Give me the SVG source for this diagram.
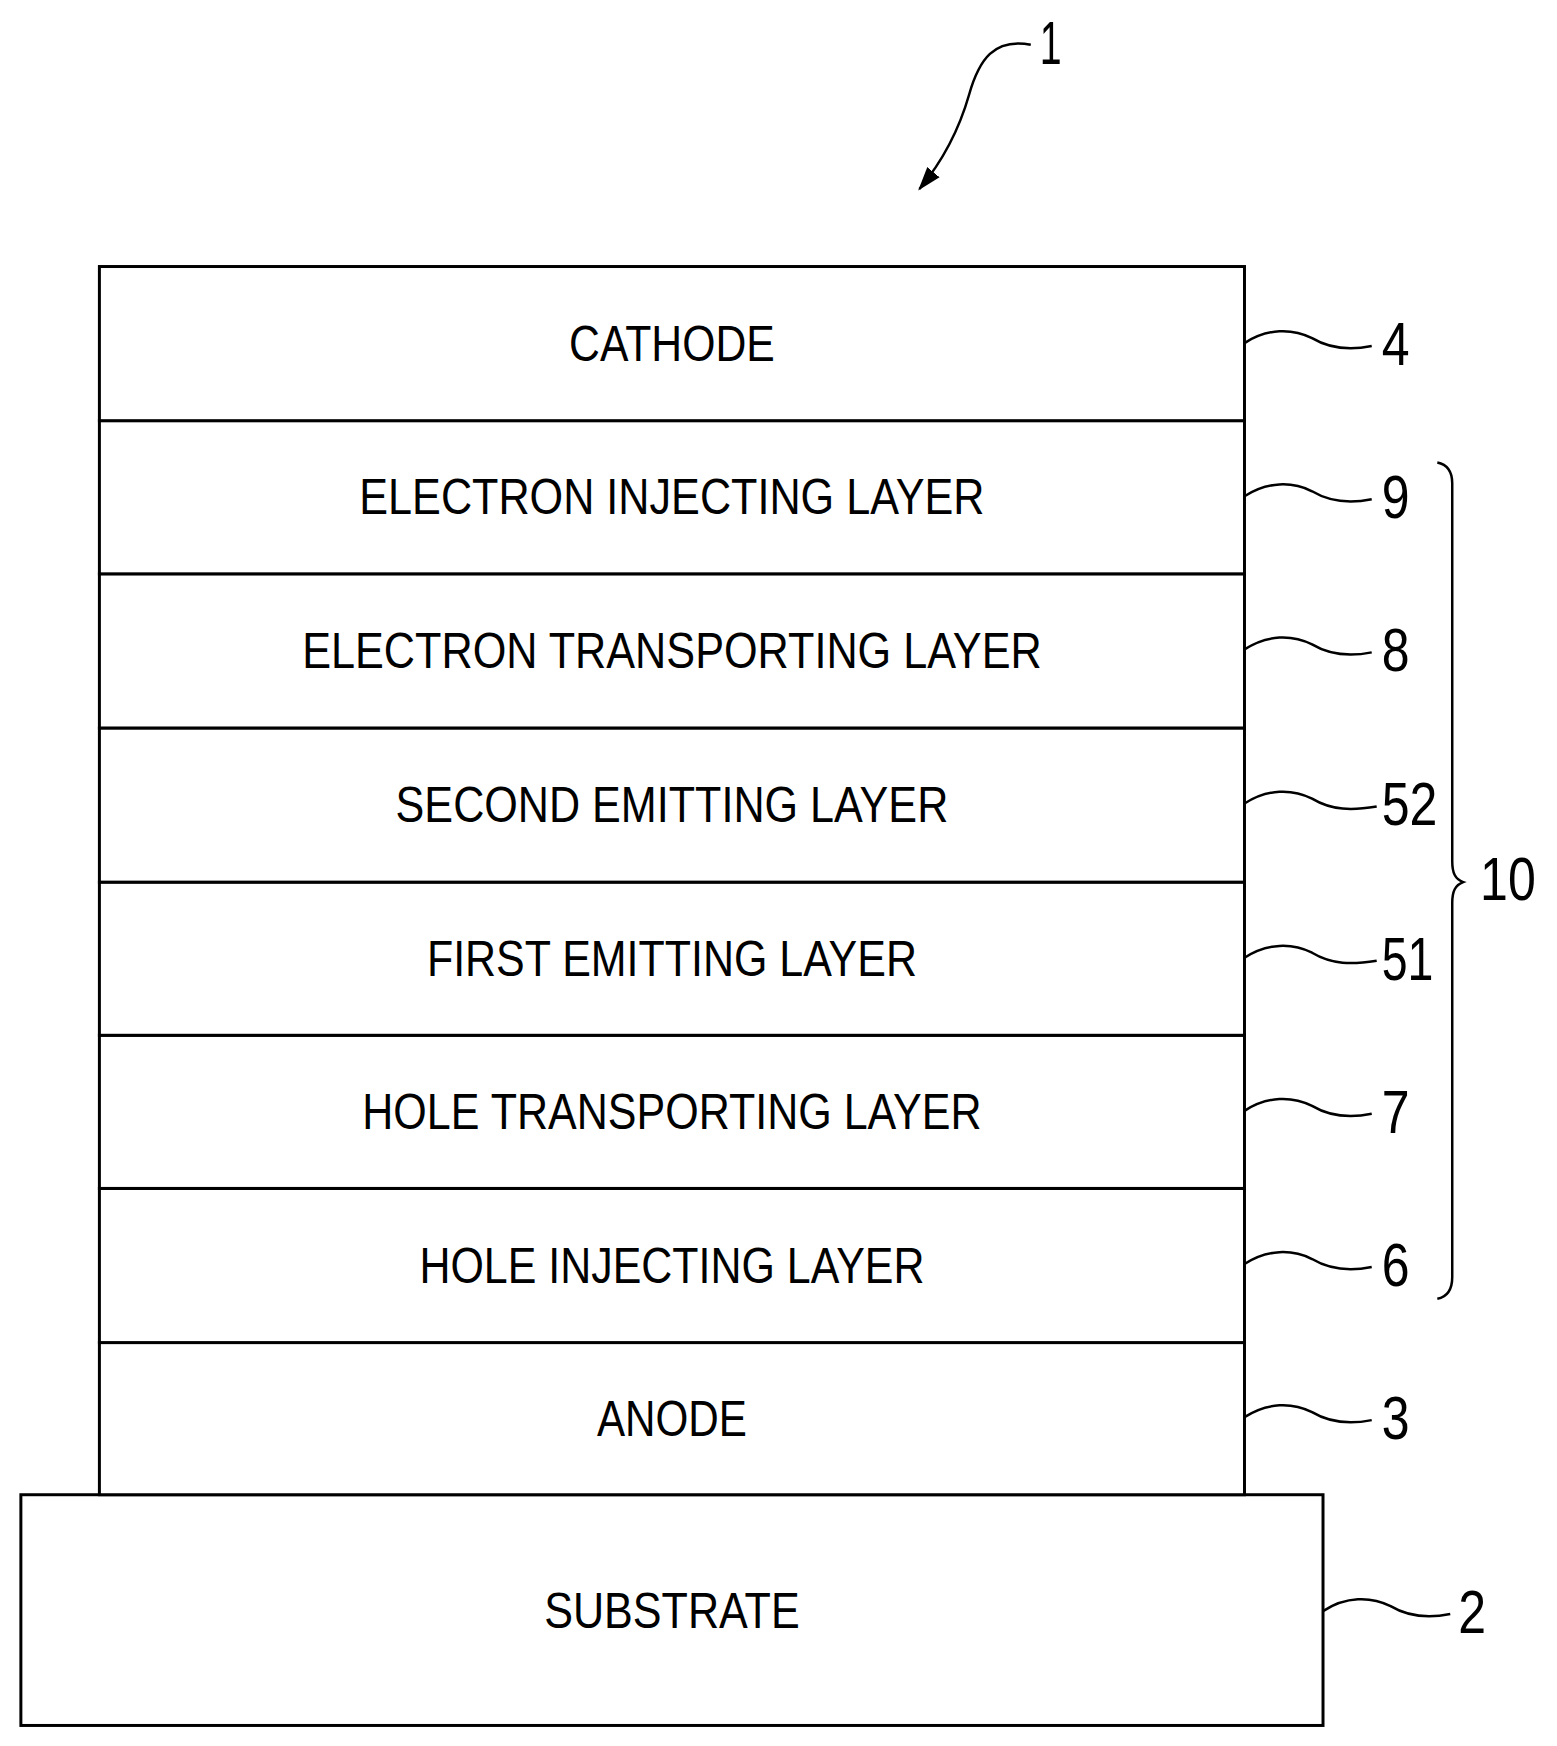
<svg xmlns="http://www.w3.org/2000/svg" width="1557" height="1746" viewBox="0 0 1557 1746">
<style>
.box{fill:#fff;stroke:#000;stroke-width:3}
.t{font-family:"Liberation Sans",Arial,sans-serif;font-size:50px;text-anchor:middle;fill:#000}
.n{font-family:"Liberation Sans",Arial,sans-serif;font-size:62px;fill:#000}
.l{fill:none;stroke:#000;stroke-width:2.5}
</style>
<defs>
<marker id="ah2" markerWidth="24" markerHeight="20" refX="22" refY="10" orient="auto" markerUnits="userSpaceOnUse"><path d="M0,2 L24,10 L0,18 z" fill="#000"/></marker></defs>
<g transform="scale(0.994,0.9945)">
<g id="substrate"><rect class="box" x="21" y="1503" width="1310" height="232"/><text class="t" x="676" y="1637" textLength="257" lengthAdjust="spacingAndGlyphs">SUBSTRATE</text></g>
<g id="anode"><rect class="box" x="100" y="1350" width="1152" height="153"/><text class="t" x="676" y="1444" textLength="151" lengthAdjust="spacingAndGlyphs">ANODE</text></g>
<g id="hil"><rect class="box" x="100" y="1195" width="1152" height="155"/><text class="t" x="676" y="1290" textLength="508" lengthAdjust="spacingAndGlyphs">HOLE INJECTING LAYER</text></g>
<g id="htl"><rect class="box" x="100" y="1041" width="1152" height="154"/><text class="t" x="676" y="1135" textLength="623" lengthAdjust="spacingAndGlyphs">HOLE TRANSPORTING LAYER</text></g>
<g id="eml1"><rect class="box" x="100" y="887" width="1152" height="154"/><text class="t" x="676" y="981" textLength="493" lengthAdjust="spacingAndGlyphs">FIRST EMITTING LAYER</text></g>
<g id="eml2"><rect class="box" x="100" y="732" width="1152" height="155"/><text class="t" x="676" y="827" textLength="556" lengthAdjust="spacingAndGlyphs">SECOND EMITTING LAYER</text></g>
<g id="etl"><rect class="box" x="100" y="577" width="1152" height="155"/><text class="t" x="676" y="672" textLength="744" lengthAdjust="spacingAndGlyphs">ELECTRON TRANSPORTING LAYER</text></g>
<g id="eil"><rect class="box" x="100" y="423" width="1152" height="154"/><text class="t" x="676" y="517" textLength="629" lengthAdjust="spacingAndGlyphs">ELECTRON INJECTING LAYER</text></g>
<g id="cathode"><rect class="box" x="100" y="268" width="1152" height="155"/><text class="t" x="676" y="363" textLength="207" lengthAdjust="spacingAndGlyphs">CATHODE</text></g>
<g id="connectors">
<path class="l" d="M1037,45 C1000,38 985,60 975,95 C965,130 950,160 925,190" marker-end="url(#ah2)"/>
<path class="l" d="M1252,345 C1275,330 1300,330 1320,340 C1340,352 1360,352 1380,348"/>
<path class="l" d="M1252,499 C1275,484 1300,484 1320,494 C1340,506 1360,506 1380,502"/>
<path class="l" d="M1252,653 C1275,638 1300,638 1320,648 C1340,660 1360,660 1380,656"/>
<path class="l" d="M1252,808 C1275,793 1300,793 1320,803 C1340,815 1360,815 1385,811"/>
<path class="l" d="M1252,963 C1275,948 1300,948 1320,958 C1340,970 1360,970 1385,966"/>
<path class="l" d="M1252,1117 C1275,1102 1300,1102 1320,1112 C1340,1124 1360,1124 1380,1120"/>
<path class="l" d="M1252,1271 C1275,1256 1300,1256 1320,1266 C1340,1278 1360,1278 1380,1274"/>
<path class="l" d="M1252,1425 C1275,1410 1300,1410 1320,1420 C1340,1432 1360,1432 1380,1428"/>
<path class="l" d="M1331,1620 C1354,1605 1379,1605 1399,1615 C1419,1627 1439,1627 1459,1623"/>
<path class="l" d="M1446,465 C1456,467 1461,474 1461,486 L1461,866 C1461,878 1464,884 1472,887 C1464,890 1461,896 1461,908 L1461,1284 C1461,1297 1456,1304 1446,1306"/>
</g>
<g id="labels">
<text class="n" x="1046" y="64" textLength="22" lengthAdjust="spacingAndGlyphs">1</text>
<text class="n" x="1390" y="367" textLength="28" lengthAdjust="spacingAndGlyphs">4</text>
<text class="n" x="1390" y="521" textLength="28" lengthAdjust="spacingAndGlyphs">9</text>
<text class="n" x="1390" y="675" textLength="28" lengthAdjust="spacingAndGlyphs">8</text>
<text class="n" x="1390" y="830" textLength="56" lengthAdjust="spacingAndGlyphs">52</text>
<text class="n" x="1390" y="985" textLength="52" lengthAdjust="spacingAndGlyphs">51</text>
<text class="n" x="1390" y="1139" textLength="28" lengthAdjust="spacingAndGlyphs">7</text>
<text class="n" x="1390" y="1293" textLength="28" lengthAdjust="spacingAndGlyphs">6</text>
<text class="n" x="1390" y="1447" textLength="28" lengthAdjust="spacingAndGlyphs">3</text>
<text class="n" x="1467" y="1642" textLength="28" lengthAdjust="spacingAndGlyphs">2</text>
<text class="n" x="1489" y="905" textLength="56" lengthAdjust="spacingAndGlyphs">10</text>
</g>
</g>
</svg>
